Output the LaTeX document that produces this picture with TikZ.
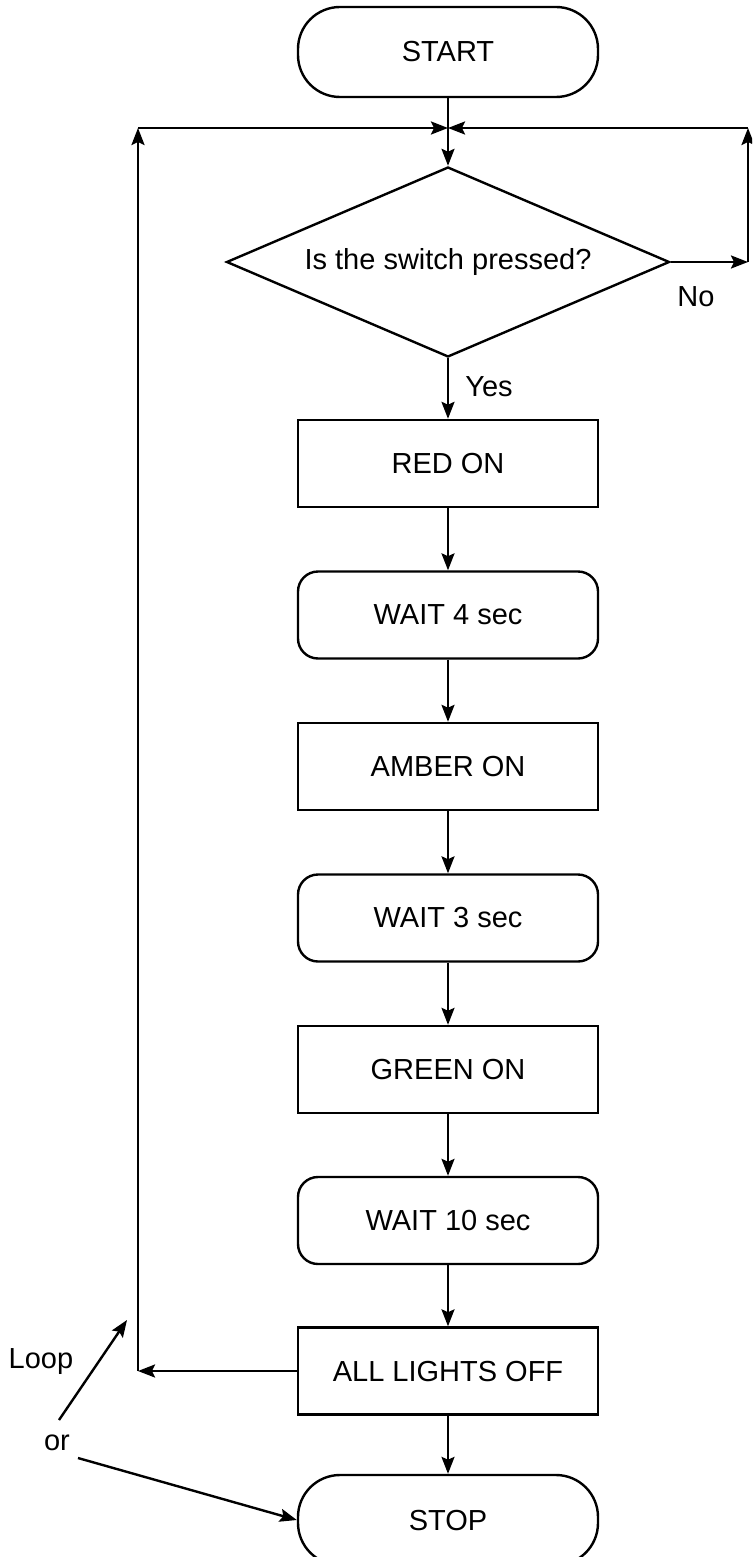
\documentclass[tikz,border=0pt]{standalone}
\usepackage{fontspec}
\setmainfont{Liberation Sans}
\usetikzlibrary{shapes.geometric,arrows.meta}
\begin{document}
\begin{tikzpicture}[x=1pt,y=-1pt,
  every node/.style={font=\fontsize{29}{34}\selectfont},
  arr/.style={line width=2.4pt,-{Stealth[length=17pt,width=13pt,inset=3pt]}},
  term/.style={draw,line width=2.4pt,rounded corners=42pt,minimum width=300pt,minimum height=90pt,inner sep=0pt},
  proc/.style={draw,line width=2.4pt,minimum width=300pt,minimum height=87pt,inner sep=0pt},
  waitbox/.style={draw,line width=2.4pt,rounded corners=20pt,minimum width=300pt,minimum height=87pt,inner sep=0pt},
  lbl/.style={inner sep=0pt}]
\useasboundingbox (0,0) rectangle (752,1557);
\clip (0,0) rectangle (752,1557);
\node[term] (start) at (448,52) {START};
\node[draw,line width=2.4pt,shape=diamond,minimum width=443pt,minimum height=190pt,inner sep=0pt,aspect=2.33] (dia) at (448,262) {Is the switch pressed?};
\node[proc] (red) at (448,463.5) {RED ON};
\node[waitbox] (w4) at (448,615) {WAIT 4 sec};
\node[proc] (amber) at (448,766.5) {AMBER ON};
\node[waitbox] (w3) at (448,918) {WAIT 3 sec};
\node[proc] (green) at (448,1069.5) {GREEN ON};
\node[waitbox] (w10) at (448,1220.5) {WAIT 10 sec};
\node[proc] (off) at (448,1371) {ALL LIGHTS OFF};
\node[term] (stop) at (448,1520) {STOP};
\coordinate (m) at (448,128);
\coordinate (l1) at (138,1371);
\coordinate (l2) at (138,128);
\coordinate (r1) at (748,262);
\coordinate (r2) at (748,128);
\coordinate (la) at (59,1420);
\coordinate (lb) at (127,1320);
\coordinate (oa) at (78,1458);
\node[lbl] (no) at (696,297) {No};
\node[lbl] (yes) at (489,387) {Yes};
\node[lbl] (loop) at (41,1362) {Loop};
\node[lbl] (or) at (57,1443) {or};
\draw[arr] (start) -- (dia);
\draw[arr] (dia) -- (red);
\draw[arr] (red) -- (w4);
\draw[arr] (w4) -- (amber);
\draw[arr] (amber) -- (w3);
\draw[arr] (w3) -- (green);
\draw[arr] (green) -- (w10);
\draw[arr] (w10) -- (off);
\draw[arr] (off) -- (stop);
\draw[arr] (off.west) -- (l1);
\draw[arr] (l1) -- (l2);
\draw[arr] (l2) -- (m);
\draw[arr] (dia.east) -- (r1);
\draw[arr] (r1) -- (r2);
\draw[arr] (r2) -- (m);
\draw[arr] (la) -- (lb);
\draw[arr] (oa) -- (stop.west);
\end{tikzpicture}
\end{document}
